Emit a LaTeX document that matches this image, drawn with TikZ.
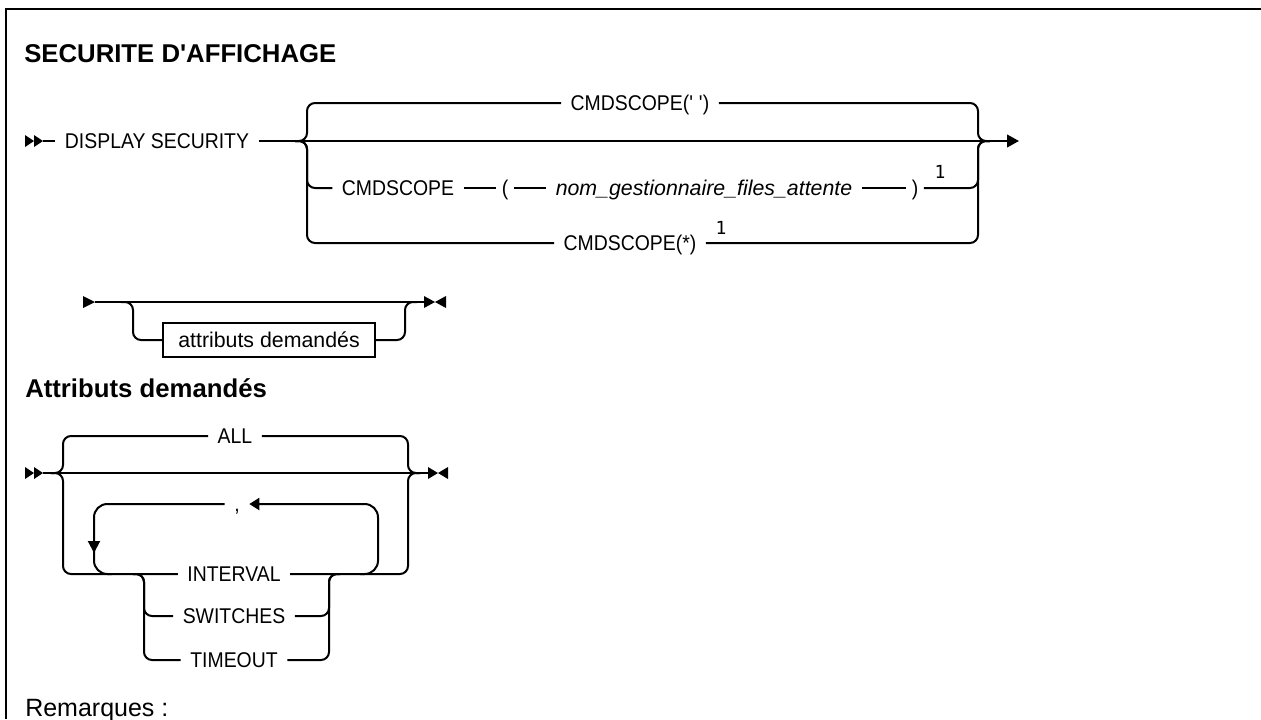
\documentclass[tikz,border=0pt]{standalone}
\usepackage{fontspec}
\setmainfont{Liberation Sans}
\newfontfamily\railfont[FakeStretch=0.91]{Liberation Sans}
\newfontfamily\railwide{Liberation Sans}
\newfontfamily\railnotefont{DejaVu Sans Mono}
\usetikzlibrary{arrows.meta,calc}
\newcommand\railtri[3]{\fill (#1,#2-6) -- (#1+#3,#2) -- (#1,#2+6) -- cycle;}
\begin{document}
\begin{tikzpicture}[x=0.75pt,y=-0.75pt,
  rail/.style={line width=1.5pt},
  rr/.style={line width=1.5pt, rounded corners=6pt},
  loopline/.style={line width=1.5pt, rounded corners=10pt},
  lbl/.style={font=\railfont\fontsize{16}{19}\selectfont, inner ysep=0pt, inner xsep=7pt, text height=11.4pt, text depth=0pt},
  paren/.style={lbl, inner xsep=4pt},
  note/.style={font=\railnotefont\fontsize{13.5}{15}\selectfont, inner sep=0pt},
  heading/.style={font=\bfseries\fontsize{19.3}{23}\selectfont, anchor=base west, inner sep=0pt},
  tip/.style={-{Triangle[length=9pt,width=9.5pt]}},
]
\useasboundingbox (0,0) rectangle (1261,719);
% frame
\coordinate (fr1) at (1261,9);
\coordinate (fr2) at (6,9);
\coordinate (fr3) at (6,719);
\draw[line width=2.2pt] (fr1) -- (fr2) -- (fr3);

% title
\node[heading] (h1) at (24,62) {SECURITE D\textquotesingle AFFICHAGE};

% ---------- diagram 1 ----------
\railtri{25}{141}{9}
\railtri{34}{141}{9}
\coordinate (s1) at (43,141);
\node[lbl] (ds) at (157,141) {DISPLAY SECURITY};
\coordinate (jL1) at (295,141);
\coordinate (jR1) at (990,141);
\coordinate (e1) at (1019,141);
\draw[rail] (s1) -- (ds.west);
\draw[rail] (ds.east) -- (jL1) -- (jR1);
\draw[rail,tip] (jR1) -- (e1);

\node[lbl] (c1) at (640,103) {CMDSCOPE(\textquotesingle\ \textquotesingle)};
\draw[rr] (jL1) -| (307,103) -- (c1.west);
\draw[rr] (c1.east) -| (978,141) -- (jR1);

\node[lbl] (c2) at (398,188) {CMDSCOPE};
\node[paren] (lp) at (505,188) {(};
\node[lbl, font=\railwide\fontsize{16}{19}\selectfont\itshape] (qm) at (704,188) {nom\_gestionnaire\_files\_attente};
\node[paren] (rp) at (915,188) {)};
\node[note] (n1) at (940,172) {1};
\draw[rr] (jL1) -| (307,188) -- (c2.west);
\draw[rail] (c2.east) -- (lp.west);
\draw[rail] (lp.east) -- (qm.west);
\draw[rail] (qm.east) -- (rp.west);
\draw[rr] (rp.east) -| (978,141) -- (jR1);

\node[lbl] (c3) at (630,243) {CMDSCOPE(*)};
\node[note] (n2) at (721,228) {1};
\draw[rr] (jL1) -| (307,243) -- (c3.west);
\draw[rr] (c3.east) -| (978,141) -- (jR1);

% ---------- diagram 2 ----------
\railtri{83}{302}{12}
\coordinate (s2) at (95,302);
\coordinate (jL2) at (121,302);
\coordinate (jR2) at (417,302);
\coordinate (e2) at (424,302);
\draw[rail] (s2) -- (e2);
\railtri{424}{302}{11}
\railtri{446}{302}{-11}
\node[draw, line width=1.5pt, font=\railwide\fontsize{16}{19}\selectfont, inner sep=0pt, text height=11.4pt, text depth=0pt, minimum width=159pt, minimum height=25.5pt] (ab) at (269,340) {attributs demandés};
\draw[rr] (jL2) -| (133,340) -- (ab.west);
\draw[rr] (ab.east) -| (405,302) -- (jR2);

% heading 2
\node[heading] (h2) at (25,397) {Attributs demandés};

% ---------- diagram 3 ----------
\railtri{25}{473}{9}
\railtri{34}{473}{9}
\coordinate (s4) at (43,473);
\coordinate (jL4) at (51,473);
\coordinate (jR4) at (420,473);
\coordinate (e4) at (428,473);
\draw[rail] (s4) -- (e4);
\railtri{428}{473}{10}
\railtri{448}{473}{-10}

\node[lbl] (all) at (235,436) {ALL};
\draw[rr] (jL4) -| (63,436) -- (all.west);
\draw[rr] (all.east) -| (408,473) -- (jR4);

\node[lbl] (iv) at (234,574) {INTERVAL};
\draw[rr] (jL4) -| (63,574) -- (iv.west);
\draw[rr] (iv.east) -| (408,473) -- (jR4);

\coordinate (jL5) at (133,574);
\coordinate (jR5) at (340,574);
\node[lbl] (sw) at (234,616) {SWITCHES};
\node[lbl] (to) at (234,660) {TIMEOUT};
\draw[rr] (jL5) -| (144,616) -- (sw.west);
\draw[rr] (sw.east) -| (329,574) -- (jR5);
\draw[rr] (jL5) -| (144,660) -- (to.west);
\draw[rr] (to.east) -| (329,574) -- (jR5);

% repeat loop
\node[lbl] (cm) at (237,504) {,};
\coordinate (lr) at (360,574);
\coordinate (ll) at (112,574);
\coordinate (dn) at (94,553);
\coordinate (dnb) at (94,545);
\draw[loopline,-{Triangle[length=7.5pt,width=9pt]}] (lr) -| (378,504) -- (cm.east);
\draw[loopline,-{Triangle[length=9pt,width=9pt]}] (cm.west) -| (dn);
\draw[loopline] (dnb) |- (ll);

% notes
\node[font=\fontsize{18.75}{22}\selectfont, anchor=base west, inner sep=0pt] (rm) at (25,716) {Remarques :};
\end{tikzpicture}
\end{document}
